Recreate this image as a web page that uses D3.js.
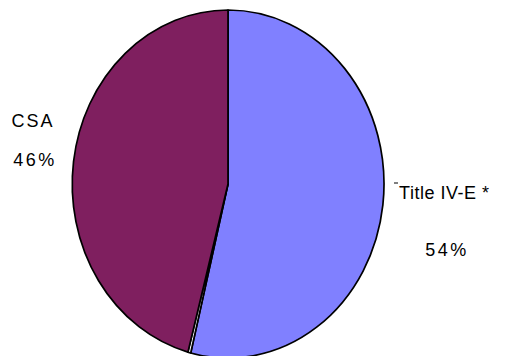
<!DOCTYPE html>
<html>
<head>
<meta charset="utf-8">
<script src="https://cdn.jsdelivr.net/npm/d3@7"></script>
<style>
  html, body { margin: 0; padding: 0; background: #ffffff; }
  svg { display: block; }
  text { font-family: "Liberation Sans", Arial, sans-serif; fill: #000; }
</style>
</head>
<body>
<svg id="chart" width="506" height="356"></svg>
<script>
// Data (clockwise from 12 o'clock)
const categories = ["Title IV-E *", "Other", "CSA"];
const values = [54, 0.3, 46];
const percentLabels = ["54%", "", "46%"];
const colors = ["#8080FF", "#FFFFFF", "#7F1F5F"];

const W = 506, H = 356;
const cx = 228, cy = 184, rx = 156, ry = 174;

const svg = d3.select("#chart");

const pie = d3.pie().sort(null).value(d => d.value);
const arcs = pie(categories.map((c, i) => ({ cat: c, value: values[i], color: colors[i], pct: percentLabels[i] })));

const arc = d3.arc().innerRadius(0).outerRadius(1);

const g = svg.append("g")
  .attr("transform", `translate(${cx},${cy}) scale(${rx},${ry})`);

g.selectAll("path")
  .data(arcs)
  .join("path")
  .attr("d", arc)
  .attr("fill", d => d.data.color)
  .attr("stroke", "#000")
  .attr("stroke-width", 1.7)
  .attr("vector-effect", "non-scaling-stroke")
  .attr("stroke-linejoin", "round");

// Labels
const labelPos = {
  "Title IV-E *": { x: 444, y1: 199, y2: 256, ls: 0.5 },
  "CSA": { x: 32, y1: 127, y2: 166, ls: 2 }
};

arcs.forEach(d => {
  const p = labelPos[d.data.cat];
  if (!p) return;
  svg.append("text")
    .attr("x", p.x + p.ls / 2).attr("y", p.y1)
    .attr("text-anchor", "middle")
    .attr("font-size", 18)
    .attr("letter-spacing", p.ls + "px")
    .text(d.data.cat);
  svg.append("text")
    .attr("x", p.x + 3).attr("y", p.y2)
    .attr("text-anchor", "middle")
    .attr("font-size", 18)
    .attr("letter-spacing", "2.5px")
    .text(d.data.pct);
});

// small leader tick near Title IV-E label
svg.append("line")
  .attr("x1", 394).attr("x2", 398)
  .attr("y1", 183).attr("y2", 183)
  .attr("stroke", "#000").attr("stroke-width", 1);
</script>
</body>
</html>
